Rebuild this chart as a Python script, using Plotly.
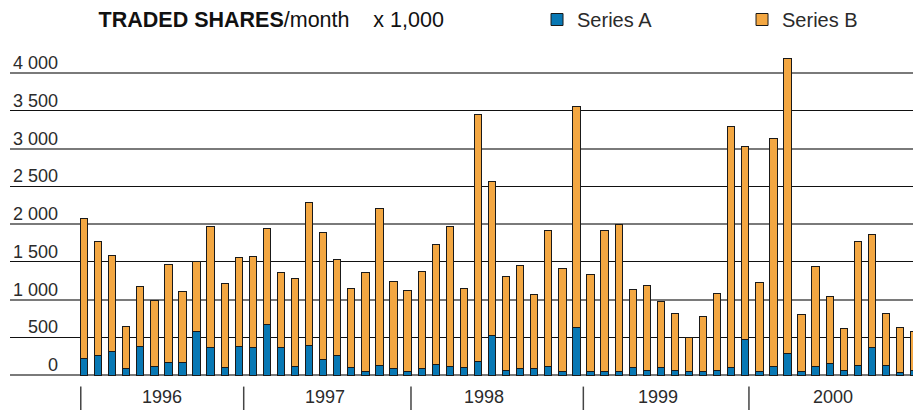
import plotly.graph_objects as go

# Monthly traded shares (x 1,000), Jan 1996 - Dec 2000
months = [f"{y}-{m:02d}" for y in range(1996, 2001) for m in range(1, 13)]

series_a = [221, 265, 305, 93, 384, 119, 172, 172, 578, 358, 101, 384,
            358, 675, 358, 119, 397, 212, 265, 101, 53, 132, 93, 53,
            93, 146, 119, 101, 185, 530, 66, 93, 93, 119, 53, 636,
            53, 53, 53, 101, 66, 101, 66, 53, 53, 66, 101, 464,
            53, 119, 291, 53, 119, 159, 66, 132, 371, 132, 40, 66]

series_b = [1849, 1510, 1275, 552, 786, 870, 1289, 932, 928, 1615, 1108, 1175,
            1218, 1268, 997, 1161, 1885, 1678, 1262, 1047, 1311, 2076, 1152, 1068,
            1275, 1585, 1850, 1047, 3268, 2035, 1241, 1360, 975, 1797, 1360, 2918,
            1280, 1863, 1943, 1038, 1117, 879, 755, 446, 724, 1011, 3188, 2569,
            1175, 3011, 3899, 751, 1320, 878, 552, 1630, 1487, 685, 592, 512]

years = ["1996", "1997", "1998", "1999", "2000"]
y_ticks = [0, 500, 1000, 1500, 2000, 2500, 3000, 3500, 4000]

FONT = "Liberation Sans"
TXT = "#2b2b2b"

fig = go.Figure()
fig.add_trace(go.Bar(x=months, y=series_a, name="Series A",
                     marker=dict(color="#0878b4", line=dict(color="#1a1a1a", width=1))))
fig.add_trace(go.Bar(x=months, y=series_b, name="Series B",
                     marker=dict(color="#f3a742", line=dict(color="#1a1a1a", width=1))))

# y labels sit above their gridlines, right-aligned
for v in y_ticks:
    fig.add_annotation(x=0.0554, xref="paper", xanchor="right", y=v, yref="y",
                       yanchor="bottom", yshift=-2, showarrow=False,
                       text=f"{v:,}".replace(",", " "),
                       font=dict(family=FONT, size=18, color=TXT))

# year separators and labels under the axis
sep_pos = [-0.23, 11.35, 23.24, 35.49, 47.26]
label_pos = [5.55, 17.1, 28.4, 40.8, 53.2]
for s in sep_pos:
    fig.add_shape(type="line", xref="x", yref="paper", x0=s, x1=s, y0=-0.032, y1=-0.11,
                  line=dict(color="#444", width=1.5))
for yr, p in zip(years, label_pos):
    fig.add_annotation(x=p, xref="x", y=-0.063, yref="paper", yanchor="middle",
                       showarrow=False, text=yr, font=dict(family=FONT, size=18, color=TXT))

fig.update_layout(
    width=913, height=410,
    margin=dict(l=10, r=0, t=45, b=34, autoexpand=False),
    barmode="stack", bargap=0.48,
    plot_bgcolor="white", paper_bgcolor="white",
    title=dict(text="<b>TRADED SHARES</b>/month    x 1,000", xref="container", x=0.108,
               xanchor="left", y=0.953, yanchor="middle",
               font=dict(family=FONT, size=21.5, color="#111")),
    legend=dict(orientation="h", xref="container", x=0.5882, xanchor="left",
                yref="container", y=1.0, yanchor="top", traceorder="normal",
                entrywidth=160, font=dict(family=FONT, size=20, color=TXT)),
    showlegend=True,
)
fig.update_xaxes(type="category", range=[-5.26, 58.92], showticklabels=False,
                 showgrid=False, ticks="", showline=False)
fig.update_yaxes(range=[-13, 4371], showticklabels=False, dtick=1000,
                 showgrid=True, gridcolor="#7a7a7a", gridwidth=1.5,
                 minor=dict(dtick=500, showgrid=True, gridcolor="#111", gridwidth=1),
                 zeroline=True, zerolinecolor="#7a7a7a", zerolinewidth=1.5)

# drop the page's default body margin so the figure sits at the window corner
fig.write_html("out.html", config={"displayModeBar": False},
               post_script="document.body.style.margin='0';")
